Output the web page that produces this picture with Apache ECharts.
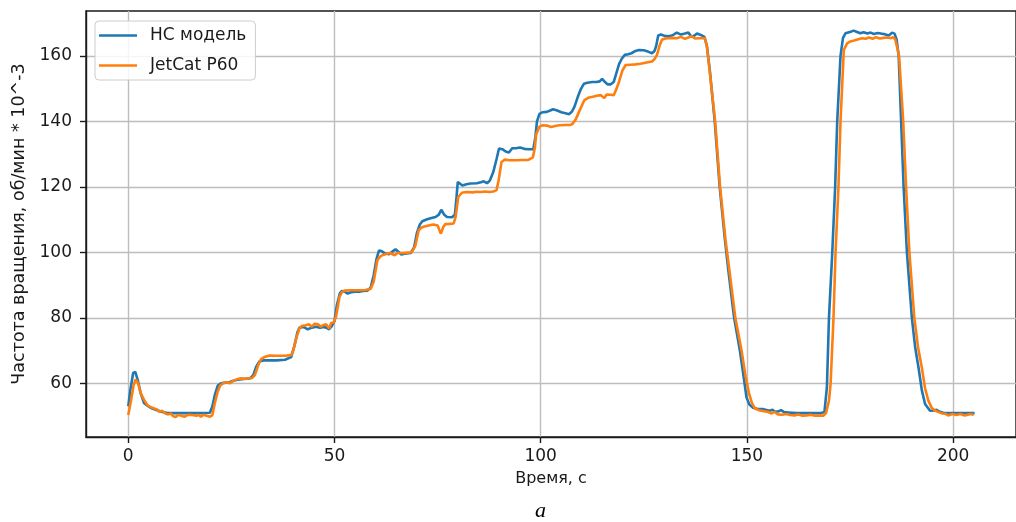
<!DOCTYPE html>
<html>
<head>
<meta charset="utf-8">
<script src="https://cdn.jsdelivr.net/npm/echarts@6/dist/echarts.min.js"></script>
<style>
html,body{margin:0;padding:0;background:#fff;}
#chart{width:1016px;height:522px;}
</style>
</head>
<body>
<div id="chart"></div>
<script>
const seriesNames = ['НС модель', 'JetCat P60'];
const xTicks = [0, 50, 100, 150, 200];
const yTicks = [60, 80, 100, 120, 140, 160];
const xAxisTitle = 'Время, с';
const yAxisTitle = 'Частота вращения, об/мин * 10^-3';
const figureLabel = 'а';

const hcTime = [0,0.5,1.2,1.7,2.3,3,3.8,4.8,5.8,7,8,9.5,12,15,18,19.8,20.4,21,21.7,22.5,23.5,24.5,25.5,26.5,28,29.5,30.3,31,31.8,32.8,34,36,38,39.5,40.3,41,41.5,42.5,43.5,44.5,45.5,46.5,47.3,48,48.7,49.3,50,50.6,51.3,51.8,52.5,53.2,54,55,56,57,58,58.8,59.5,60.2,60.8,61.5,62.2,63.2,64,64.8,65.5,66.2,67,68.5,69.3,70,70.7,71.3,72.3,73.3,74.5,75.3,75.9,76.6,77.3,78.5,79.2,79.6,79.9,80.4,81,82,83,84.5,85.5,86.2,87,87.7,88.5,89.3,89.9,90.7,91.5,92.3,93.1,94,95,96,97,98.2,98.7,99.1,99.7,100.5,101.5,102.3,103,104,105,106,106.9,107.6,108.2,109,109.8,110.5,111.3,112.5,113.5,114.3,114.9,115.6,116.2,117,117.7,118.3,119,119.7,120.4,121.2,122,123,123.8,125,126,127,127.6,128,128.5,129.2,130,131,132,133,134,135,135.8,136.6,137.3,137.9,138.8,139.7,140.3,141,142.2,143.4,144.6,145.5,146.9,148.3,149.1,149.9,150.6,151.5,152.5,154,155.5,156.2,156.8,157.6,158.3,159,160,162,164,166,168,168.8,169.4,169.9,170.7,171.4,171.9,172.7,173.3,173.9,175,175.9,176.7,177.5,178.3,179.2,180,180.8,181.7,182.5,183.2,184.4,185.2,185.8,186.3,186.8,187.4,188,188.8,190,190.8,191.6,192.4,193.2,194.4,195.3,196,196.8,197.6,199,201,203,205.2];
const hcValues = [53,58,63.2,63.5,61,57,54,53,52.3,51.8,51.3,50.9,50.9,50.9,50.9,51,53,56.5,59.3,60,60.2,60.3,60.8,61.1,61.3,61.5,62.5,65,66.7,67,67,67,67.2,68,71.5,75.5,77,77.2,76.5,77,77.3,77,77.2,77,76.5,77.4,79,84,87.5,88.2,88,87.4,87.8,88,88,88.2,88.3,89.3,93,98,100.6,100.3,99.7,99.4,100.2,100.9,100.2,99.3,99.6,99.8,101.5,106,108.5,109.5,110,110.4,110.8,111.5,113,111.5,110.8,110.7,111.5,117,121.5,121,120.4,120.8,121,121.1,121.4,121.7,121.1,122,124.5,128.5,131.7,131.5,130.8,130.5,131.8,131.8,132,131.6,131.5,131.5,135,140,142.3,142.8,142.9,143.3,143.7,143.3,142.8,142.5,142.2,143,144.5,147.5,150,151.5,151.8,152,152,152.2,153,152,151.3,151.3,152,154.5,157.5,159.2,160.3,160.5,160.8,161.5,161.8,161.7,161.3,160.8,161.5,163,166.2,166.5,166.1,166,166.3,167.1,166.5,166.8,167.1,165.8,166.2,166.8,166.4,165.8,163,155.7,140,120,104.7,94.5,80,70,63,55.7,53.5,52.5,52.2,52.1,51.6,51.9,51.4,51.4,51.8,51.2,51.1,50.9,50.9,50.9,50.9,51.2,58.8,80,100,120,140,160,165.5,166.9,167.3,167.7,167.3,166.9,167.2,166.8,167.1,166.7,167,166.8,166.7,166.2,167.1,166.8,165,160,140,120,100,80,71,64.9,58,53.7,51.6,51.7,51.9,51.3,51,50.9,50.9,50.9,50.9];

const jcTime = [0,0.7,1.3,1.8,2.4,3,3.8,4.7,5.5,6.3,7,7.5,8.2,9,9.7,10.3,10.8,11.5,12.2,13,13.7,14.5,15.5,16.5,17,17.6,18.3,19,19.8,20.4,21,21.7,22.3,23,24,24.7,25.5,26.3,27.1,28.5,30,30.7,31.5,32.2,33,34.3,36,38,39.5,40,40.8,41.6,42.3,43,43.8,44.5,45.2,46,46.7,47.3,48,48.7,49.2,49.8,50.4,51.2,51.8,52.4,54,56,57.5,58.8,59.5,60.4,61,61.6,62.5,63.5,64.6,65.3,66.5,68,68.8,69.6,70.4,71,71.6,72.8,74,75,75.8,76.4,76.9,78,78.9,79.4,80,80.9,82,83.5,84.5,85.5,86.5,87.5,88.5,89.3,89.8,90.5,91.3,92.5,94,95.5,97,98.1,98.6,98.9,99.7,100.5,101.5,102.5,103.5,104.5,106,107.2,107.7,108.5,109.5,110.6,111.5,112.6,113.6,114.6,115.4,116,117,117.7,118.4,119,119.8,120.6,121.8,123,124.2,125.4,126.3,127,127.6,128.2,128.8,129.4,130.2,131,132,133,134,135,135.8,136.6,137.4,138.5,139.8,140.3,141,142.3,143.5,144.8,145.8,147.2,148.7,149.7,150.5,151.2,152,153,154,155,156,156.7,157.5,158.5,159.5,160.5,161.5,162.5,163.5,164.5,165.5,166.5,167.5,168.5,169.2,169.9,170.3,171,171.5,172.2,172.7,173.5,174.3,175.1,176,177,177.9,178.8,179.6,180.5,181.3,182.2,183.1,184,185,185.5,186,186.9,187.9,188.6,189.4,190.6,191.5,192.4,193.2,194,194.8,195.6,196.5,197.4,198.3,198.8,199.8,200.8,201.8,202.8,203.8,204.5,205];
const jcValues = [50.3,55,59.5,61.2,60,57,55,53.2,52.7,52.3,52,51.3,51.6,50.8,50.5,50.8,50,49.7,50.4,50,49.8,50.4,50.3,50.1,50.4,49.8,50.4,50.1,49.8,50.3,54,57.5,59.3,60,60.3,60,60.8,61.2,61.5,61.4,61.6,62.5,65.5,67.4,68,68.5,68.4,68.4,68.6,70,74,77.1,77.6,77.7,78,77.3,78.2,78,77.3,77.8,78,76.7,78.4,78.6,80.5,86.3,87.8,88.3,88.4,88.4,88.5,88.9,91,97.6,98.6,99.1,99.5,99.8,99.1,99.8,99.8,99.9,100.1,102,106.7,107.5,107.8,108.2,108.5,108.2,105.7,107.8,108.6,108.7,108.8,111,116.9,118.2,118.4,118.3,118.5,118.4,118.6,118.4,118.6,119,122,127.6,128.3,128.1,128.1,128.2,128.2,129,132,136,138.4,138.8,138.7,138.3,138.6,138.8,138.9,138.9,139.2,140.6,143.5,146.5,147.2,147.5,147.8,148,147.1,148.2,148.1,148,150,152.1,155.5,157.2,157.3,157.4,157.6,157.9,158.1,158.3,159,160.3,163,164.9,165.3,165.4,165.5,165.4,165.8,165.2,165.6,166,165.3,165.4,165.4,163,155,140,120,104,94,80,70,62,57,54,52.2,51.8,51.5,51.3,50.8,51.3,50.5,50.4,50.6,50.3,50.2,50.5,50.1,50.2,50.4,50.1,50.2,50.1,51,54.7,60,80,100,120,140,161.8,163.8,164.4,164.7,165.1,165.4,165.2,165.6,165.2,165.7,165.3,165.5,165.6,165.4,165.7,164.9,160,140,120,100,80,71,64.9,58.5,54.7,52.5,51.7,51.2,50.8,50.6,50.2,50.6,50.3,50.6,50.2,50.5,50.6,50.3];

const chart = echarts.init(document.getElementById('chart'), null, {renderer: 'canvas'});
const FONT = 'DejaVu Sans';
const pairs = (ts, vs) => ts.map((t, i) => [t, vs[i]]);

chart.setOption({
  animation: false,
  backgroundColor: '#ffffff',
  textStyle: {fontFamily: FONT},
  grid: {
    left: 86, top: 11, width: 937, bottom: 85,
    show: true, borderColor: '#1a1a1a', borderWidth: 1.4, backgroundColor: 'transparent'
  },
  legend: {
    orient: 'vertical', left: 95, top: 21,
    padding: [6, 9, 6, 4],
    icon: 'path://M0,0 L38,0 L38,2.6 L0,2.6 Z',
    itemWidth: 38, itemHeight: 14, itemGap: 13,
    backgroundColor: 'rgba(255,255,255,0.85)',
    borderColor: '#cccccc', borderWidth: 1, borderRadius: 4,
    textStyle: {fontFamily: FONT, fontSize: 17, color: '#1a1a1a', padding: [0, 0, 0, 8]},
    data: seriesNames
  },
  xAxis: {
    type: 'value', min: -10.25, max: 215.25,
    name: xAxisTitle, nameLocation: 'middle', nameGap: 34,
    nameTextStyle: {fontFamily: FONT, fontSize: 16, color: '#1a1a1a'},
    axisLine: {show: true, onZero: false, lineStyle: {color: '#1a1a1a', width: 1.4}},
    axisTick: {show: true, length: 6, customValues: xTicks, lineStyle: {color: '#1a1a1a', width: 1.4}},
    axisLabel: {customValues: xTicks, fontFamily: FONT, fontSize: 17, color: '#1a1a1a', margin: 11},
    splitLine: {show: true, lineStyle: {color: '#bdbdbd', width: 1.4}}
  },
  yAxis: {
    type: 'value', min: 43.6, max: 173.7,
    name: yAxisTitle, nameLocation: 'middle', nameGap: 54, nameRotate: 90,
    nameTextStyle: {fontFamily: FONT, fontSize: 17.5, color: '#1a1a1a'},
    axisLine: {show: true, onZero: false, lineStyle: {color: '#1a1a1a', width: 1.4}},
    axisTick: {show: true, length: 6, customValues: yTicks, lineStyle: {color: '#1a1a1a', width: 1.4}},
    axisLabel: {customValues: yTicks, fontFamily: FONT, fontSize: 17, color: '#1a1a1a', margin: 14},
    splitLine: {show: true, lineStyle: {color: '#bdbdbd', width: 1.4}}
  },
  series: [
    {
      name: seriesNames[0], type: 'line', data: pairs(hcTime, hcValues),
      showSymbol: false, symbol: 'none', z: 2,
      lineStyle: {color: '#1f77b4', width: 2.6}, itemStyle: {color: '#1f77b4'}
    },
    {
      name: seriesNames[1], type: 'line', data: pairs(jcTime, jcValues),
      showSymbol: false, symbol: 'none', z: 3,
      lineStyle: {color: '#ff7f0e', width: 2.6}, itemStyle: {color: '#ff7f0e'}
    }
  ],
  graphic: [
    {
      type: 'text', left: 535, top: 500,
      style: {text: figureLabel, font: 'italic 22px "Liberation Serif"', fill: '#000'}
    }
  ]
});
</script>
</body>
</html>
